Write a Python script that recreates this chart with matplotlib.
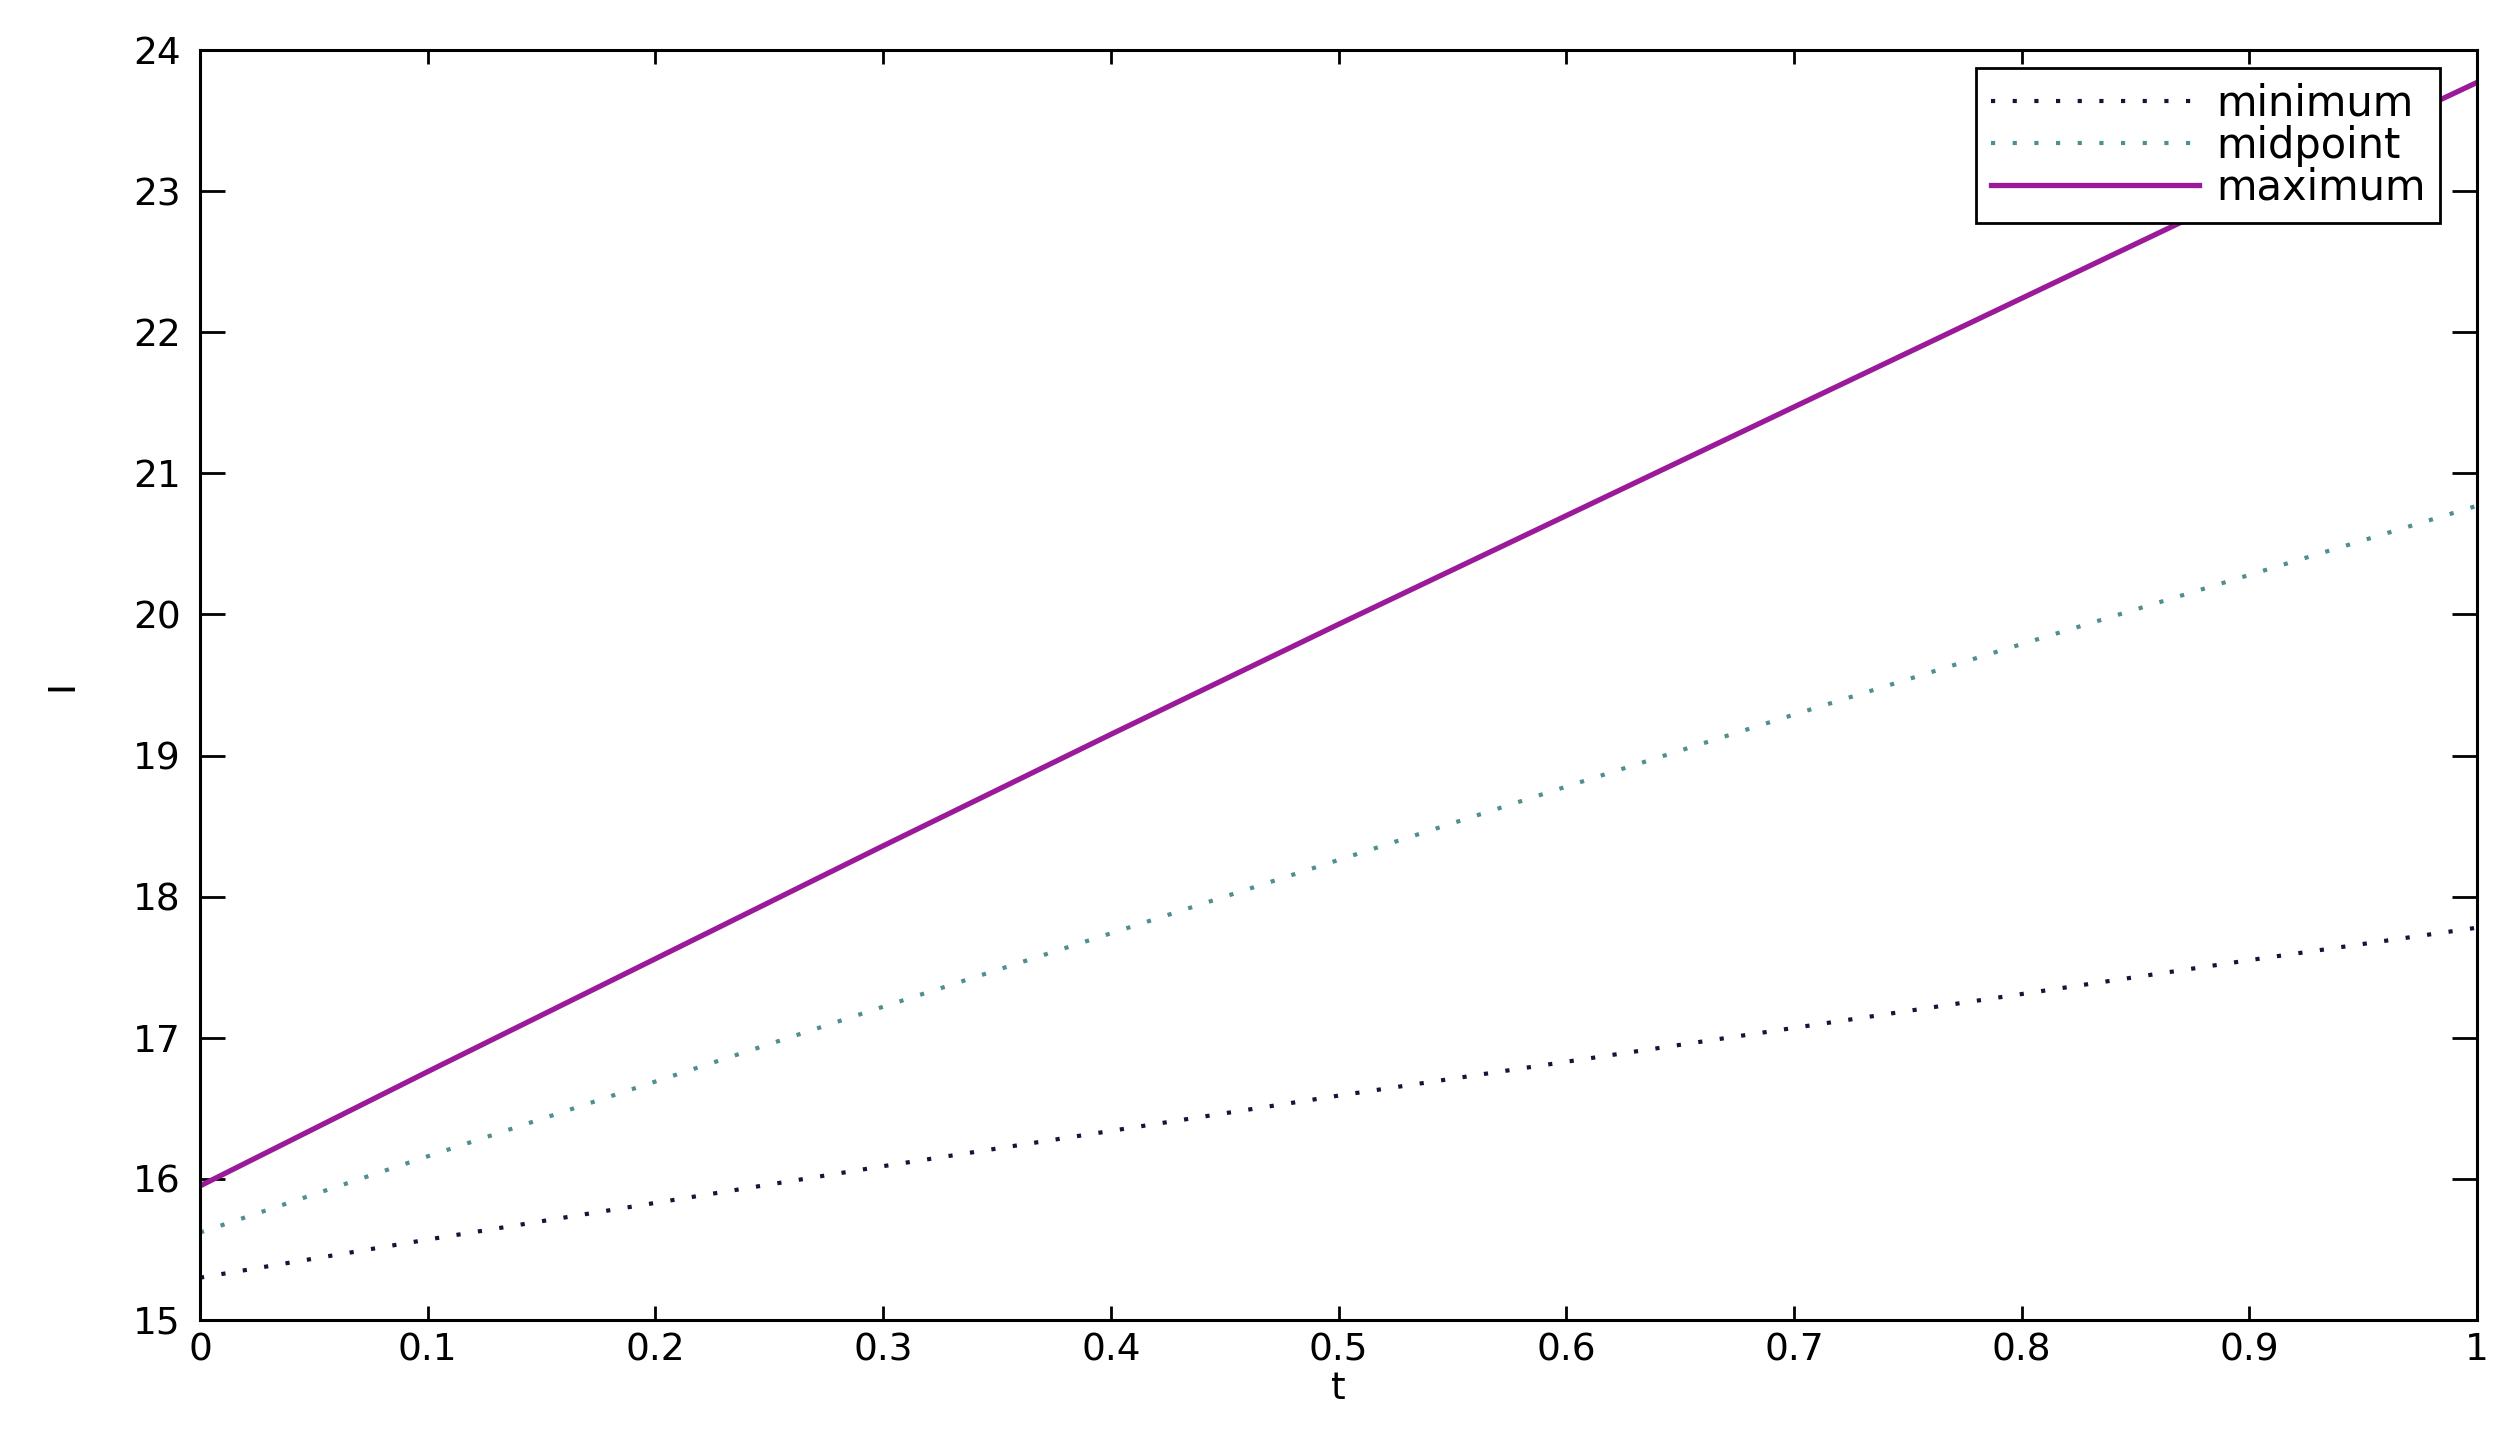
import matplotlib
matplotlib.use("Agg")
import matplotlib.pyplot as plt

t = [0.0, 0.1, 0.2, 0.3, 0.4, 0.5, 0.6, 0.7, 0.8, 0.9, 1.0]
minimum = [15.30, 15.57, 15.83, 16.09, 16.34, 16.59, 16.83, 17.07, 17.31, 17.55, 17.78]
midpoint = [15.62, 16.16, 16.69, 17.22, 17.74, 18.26, 18.78, 19.29, 19.79, 20.28, 20.77]
maximum = [15.95, 16.76, 17.56, 18.36, 19.15, 19.93, 20.70, 21.47, 22.24, 23.01, 23.77]

xticks = [0, 0.1, 0.2, 0.3, 0.4, 0.5, 0.6, 0.7, 0.8, 0.9, 1]
xticklabels = ["0", "0.1", "0.2", "0.3", "0.4", "0.5", "0.6", "0.7", "0.8", "0.9", "1"]
yticks = [15, 16, 17, 18, 19, 20, 21, 22, 23, 24]

plt.rcParams['font.family'] = ['DejaVu Sans']

W, H = 2516, 1430
fig = plt.figure(figsize=(W / 100, H / 100), dpi=100)
ax = fig.add_axes([200 / W, 1 - 1320 / H, (2477 - 200) / W, (1320 - 50) / H])

dots = (0, (1, 4.2))
ax.plot(t, minimum, color='#14143c', lw=3.0, linestyle=dots, label='minimum')
ax.plot(t, midpoint, color='#4f8f8f', lw=3.0, linestyle=dots, label='midpoint')
ax.plot(t, maximum, color='#9a1a9a', lw=3.8, linestyle='-', label='maximum')

ax.set_xlim(0, 1)
ax.set_ylim(15, 24)
ax.set_xticks(xticks)
ax.set_xticklabels(xticklabels)
ax.set_yticks(yticks)
ax.tick_params(axis='both', direction='in', top=True, right=True,
               labelsize=27, width=2.0, color='black')
ax.tick_params(axis='y', length=18, pad=14)
ax.tick_params(axis='x', length=10, pad=9)
for s in ax.spines.values():
    s.set_linewidth(2.2)
    s.set_color('black')

ax.set_xlabel('t', fontsize=27, labelpad=2)
ax.set_ylabel('I', fontsize=27, labelpad=38, rotation=90)

leg = ax.legend(loc='upper right', bbox_to_anchor=(0.9838, 0.9858),
                borderaxespad=0, fontsize=30, frameon=True, fancybox=False,
                edgecolor='black', framealpha=1, handlelength=5.0,
                handletextpad=0.4, labelspacing=0.0, borderpad=0.35)
leg.get_frame().set_linewidth(2.0)

fig.savefig('out.png', dpi=100)
